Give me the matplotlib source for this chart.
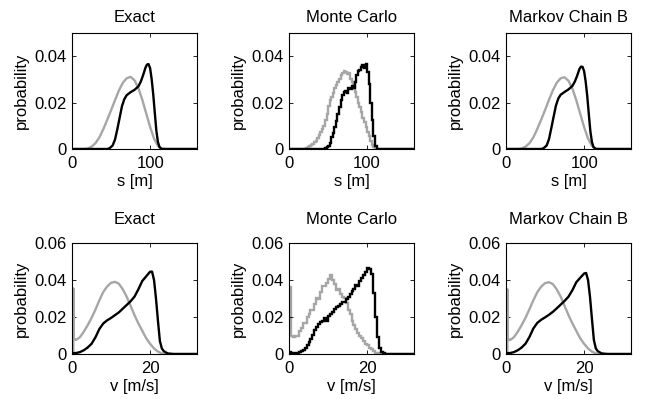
import numpy as np
import matplotlib
matplotlib.use("Agg")
import matplotlib.pyplot as plt

plt.rcParams['font.family'] = ['Liberation Sans', 'DejaVu Sans']
plt.rcParams['font.size'] = 12

GRAY = '#a6a6a6'
BLACK = 'black'

titles = ["Exact", "Monte Carlo", "Markov Chain B"]

# ---- distance s [m], exact (smooth) curves
s_exact_gray = [0, 15, 20, 25, 30, 35, 40, 45, 50, 55, 60, 65, 70, 75, 80, 85,
                90, 95, 100, 105, 110, 115, 120, 160]
p_exact_gray = [0, 0, 0.0002, 0.001, 0.0025, 0.005, 0.0085, 0.0125, 0.0167, 0.021,
                0.0252, 0.0285, 0.0305, 0.0311, 0.0296, 0.0262, 0.0212, 0.0153,
                0.0095, 0.0045, 0.0013, 0.0002, 0, 0]
s_exact_black = [0, 45, 48, 52, 55, 58, 61, 64, 67, 70, 75, 80, 85, 88, 91, 94,
                 96, 98, 100, 102, 104, 106, 108, 110, 112, 115, 160]
p_exact_black = [0, 0, 0.0003, 0.0015, 0.004, 0.0085, 0.0135, 0.0185, 0.0215,
                 0.0232, 0.0245, 0.0255, 0.027, 0.029, 0.0318, 0.035, 0.0364,
                 0.0366, 0.0348, 0.030, 0.0235, 0.0155, 0.0078, 0.003, 0.0008, 0, 0]

# markov chain B, distance
s_mc_b_gray = [0, 15, 20, 25, 30, 35, 40, 45, 50, 55, 60, 65, 70, 75, 80, 85,
               90, 95, 100, 105, 110, 115, 120, 160]
p_mc_b_gray = [0, 0, 0.0002, 0.001, 0.0025, 0.005, 0.0086, 0.0126, 0.0168, 0.0212,
               0.0253, 0.0286, 0.0305, 0.0309, 0.0294, 0.026, 0.021, 0.0152,
               0.0094, 0.0045, 0.0013, 0.0002, 0, 0]
s_mc_b_black = [0, 45, 48, 52, 55, 58, 61, 64, 67, 70, 75, 80, 85, 88, 91, 94,
                96, 98, 100, 102, 104, 106, 108, 110, 112, 115, 160]
p_mc_b_black = [0, 0, 0.0003, 0.0015, 0.0042, 0.009, 0.014, 0.0188, 0.0218,
                0.0234, 0.0246, 0.0257, 0.0272, 0.029, 0.0315, 0.0345, 0.0355,
                0.0354, 0.0335, 0.029, 0.0228, 0.015, 0.0076, 0.003, 0.0008, 0, 0]

# monte carlo, distance (histograms, 2 m bins)
mc_s_gray_start = 20
mc_s_gray = [0.0002, 0.0003, 0.0008, 0.0012, 0.0018, 0.0022, 0.0030, 0.0036,
             0.0048, 0.0060, 0.0072, 0.0088, 0.0101, 0.0125, 0.0150, 0.0185,
             0.0212, 0.0225, 0.0243, 0.0262, 0.0275, 0.0290, 0.0302, 0.0318,
             0.0326, 0.0335, 0.0331, 0.0322, 0.0328, 0.0300, 0.0288, 0.0268,
             0.0245, 0.0222, 0.0200, 0.0183, 0.0160, 0.0135, 0.0115, 0.0095,
             0.0072, 0.0055, 0.0035, 0.0018, 0.0008, 0.0003, 0]
mc_s_black_start = 44
mc_s_black = [0.0002, 0.0004, 0.0008, 0.0015, 0.0028, 0.0050, 0.0070, 0.0095,
              0.0122, 0.0150, 0.0180, 0.0212, 0.0232, 0.0245, 0.0252, 0.0240,
              0.0262, 0.0258, 0.0272, 0.0265, 0.0290, 0.0318, 0.0335, 0.0342,
              0.0355, 0.0362, 0.0350, 0.0365, 0.0330, 0.0280, 0.0200, 0.0125,
              0.0055, 0.0015, 0.0002]
s_bin = 2

# ---- speed v [m/s], exact curves
v_exact_gray = [0.35, 0.35, 0.45, 1, 2, 3, 4, 5, 6, 7, 8, 9, 10, 11, 12, 13, 14,
                15, 16, 17, 18, 19, 20, 21, 22, 23, 24, 32]
p_v_exact_gray = [0, 0.0355, 0.0085, 0.0076, 0.009, 0.012, 0.0155, 0.0195, 0.024,
                  0.029, 0.0335, 0.0365, 0.0385, 0.039, 0.038, 0.035, 0.031,
                  0.026, 0.021, 0.0165, 0.0125, 0.0085, 0.0055, 0.003, 0.0013,
                  0.0003, 0, 0]
v_exact_black = [0, 1, 2, 3, 4, 5, 6, 7, 8, 9, 10, 11, 12, 13, 14, 15, 16, 17,
                 18, 19, 20, 20.5, 21, 21.5, 22, 22.5, 23, 23.5, 24.5, 26, 32]
p_v_exact_black = [0.0005, 0.0005, 0.001, 0.002, 0.0035, 0.0055, 0.009, 0.0135,
                   0.0165, 0.0182, 0.0195, 0.021, 0.0225, 0.0245, 0.0265, 0.0285,
                   0.031, 0.035, 0.0395, 0.042, 0.0445, 0.0445, 0.040, 0.030,
                   0.018, 0.007, 0.003, 0.0015, 0.0003, 0, 0]

v_mc_b_gray = v_exact_gray
p_v_mc_b_gray = [0, 0.0350, 0.0084, 0.0075, 0.009, 0.012, 0.0156, 0.0196, 0.0242,
                 0.029, 0.0334, 0.0364, 0.0383, 0.0388, 0.0378, 0.0349, 0.031,
                 0.026, 0.021, 0.0165, 0.0125, 0.0085, 0.0055, 0.003, 0.0013,
                 0.0003, 0, 0]
v_mc_b_black = [0, 1, 2, 3, 4, 5, 6, 7, 8, 9, 10, 11, 12, 13, 14, 15, 16, 17,
                18, 19, 20, 20.5, 21, 21.5, 22, 22.5, 23, 23.5, 24.5, 26, 32]
p_v_mc_b_black = [0.0005, 0.0005, 0.001, 0.002, 0.0035, 0.0056, 0.0092, 0.0138,
                  0.0168, 0.0185, 0.0198, 0.0212, 0.0228, 0.0247, 0.0267, 0.0287,
                  0.031, 0.0345, 0.0388, 0.0412, 0.0435, 0.0438, 0.040, 0.031,
                  0.019, 0.0075, 0.003, 0.0015, 0.0003, 0, 0]

# monte carlo, speed (0.5 m/s bins)
mc_v_gray = [0.0360, 0.0095, 0.0092, 0.0100, 0.0098, 0.0125, 0.0140, 0.0165,
             0.0170, 0.0198, 0.0215, 0.0240, 0.0238, 0.0270, 0.0305, 0.0300,
             0.0335, 0.0370, 0.0365, 0.0385, 0.0405, 0.0425, 0.0400, 0.0380,
             0.0348, 0.0352, 0.0325, 0.0310, 0.0305, 0.0275, 0.0240, 0.0215,
             0.0180, 0.0158, 0.0135, 0.0112, 0.0098, 0.0085, 0.0068, 0.0055,
             0.0048, 0.0035, 0.0025, 0.0015, 0.0008, 0.0004, 0.0001, 0]
mc_v_black = [0.0010, 0.0008, 0.0008, 0.0006, 0.0008, 0.0010, 0.0015, 0.0022,
              0.0035, 0.0050, 0.0065, 0.0080, 0.0105, 0.0128, 0.0145, 0.0160,
              0.0172, 0.0180, 0.0195, 0.0178, 0.0205, 0.0215, 0.0228, 0.0242,
              0.0255, 0.0262, 0.0270, 0.0282, 0.0280, 0.0295, 0.0310, 0.0325,
              0.0340, 0.0352, 0.0375, 0.0370, 0.0395, 0.0412, 0.0428, 0.0445,
              0.0465, 0.0458, 0.0430, 0.0330, 0.0200, 0.0090, 0.0035, 0.0012,
              0.0005, 0.0001]
v_bin = 0.5


def stairs_full(ax, start, vals, width, xmax, color):
    vals = np.asarray(vals)
    n_pre = int(round(start / width))
    n_post = int(round((xmax - start) / width)) - len(vals)
    full = np.concatenate([np.zeros(n_pre), vals, np.zeros(max(n_post, 0))])
    edges = np.arange(len(full) + 1) * width
    ax.stairs(full, edges, color=color, lw=1.7, baseline=None)


def style(ax, xlim, ylim, xticks, yticks, ylabels, xlabel, title, tpad):
    ax.set_xlim(xlim)
    ax.set_ylim(ylim)
    ax.set_xticks(xticks)
    ax.set_xticklabels([str(t) for t in xticks])
    ax.set_yticks(yticks)
    ax.set_yticklabels(ylabels)
    ax.tick_params(direction='in', length=3, width=0.6, top=True, right=True,
                   labelsize=12)
    ax.tick_params(axis='x', pad=5)
    ax.tick_params(axis='y', pad=4)
    for sp in ax.spines.values():
        sp.set_linewidth(0.8)
    ax.set_xlabel(xlabel, fontsize=12, labelpad=2)
    ax.set_ylabel("probability", fontsize=12, labelpad=4)
    ax.set_title(title, fontsize=12, pad=tpad)


fig = plt.figure(figsize=(6.52, 3.99), dpi=100)
lefts = [72 / 652, 289 / 652, 506 / 652]
w = 125 / 652
top_row = [1 - 149 / 399, 116 / 399]
bot_row = [1 - 354 / 399, 111 / 399]

for i, left in enumerate(lefts):
    ax = fig.add_axes([left, top_row[0], w, top_row[1]])
    if i == 0:
        ax.plot(s_exact_gray, p_exact_gray, color=GRAY, lw=1.7)
        ax.plot(s_exact_black, p_exact_black, color=BLACK, lw=1.7)
    elif i == 1:
        stairs_full(ax, mc_s_gray_start, mc_s_gray, s_bin, 160, GRAY)
        stairs_full(ax, mc_s_black_start, mc_s_black, s_bin, 160, BLACK)
    else:
        ax.plot(s_mc_b_gray, p_mc_b_gray, color=GRAY, lw=1.7)
        ax.plot(s_mc_b_black, p_mc_b_black, color=BLACK, lw=1.7)
    style(ax, (0, 160), (0, 0.05), [0, 100], [0, 0.02, 0.04],
          ["0", "0.02", "0.04"], "s [m]", titles[i], 8)

    ax = fig.add_axes([left, bot_row[0], w, bot_row[1]])
    if i == 0:
        ax.plot(v_exact_gray, p_v_exact_gray, color=GRAY, lw=1.7)
        ax.plot(v_exact_black, p_v_exact_black, color=BLACK, lw=1.7)
    elif i == 1:
        stairs_full(ax, 0, mc_v_gray, v_bin, 32, GRAY)
        stairs_full(ax, 0, mc_v_black, v_bin, 32, BLACK)
    else:
        ax.plot(v_mc_b_gray, p_v_mc_b_gray, color=GRAY, lw=1.7)
        ax.plot(v_mc_b_black, p_v_mc_b_black, color=BLACK, lw=1.7)
    style(ax, (0, 32), (0, 0.06), [0, 20], [0, 0.02, 0.04, 0.06],
          ["0", "0.02", "0.04", "0.06"], "v [m/s]", titles[i], 14)

fig.savefig("out.png", dpi=100)
